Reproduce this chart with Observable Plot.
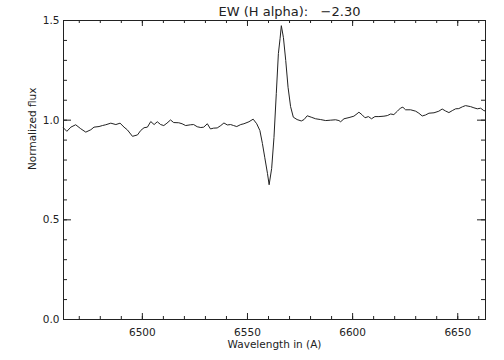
<!DOCTYPE html>
<html><head><meta charset="utf-8">
<script src="https://cdn.jsdelivr.net/npm/d3@7"></script>
<script src="https://cdn.jsdelivr.net/npm/@observablehq/plot@0.6"></script>
<style>html,body{margin:0;padding:0;background:#fff;} svg{display:block;}</style>
</head><body><div id="chart"></div>
<script>
const wavelength = [6462.5,6464.1,6466.0,6468.3,6470.7,6473.1,6475.5,6477.0,6479.4,6481.0,
6482.6,6485.0,6487.4,6489.4,6491.3,6492.9,6495.3,6497.7,6499.2,6500.8,
6502.4,6504.0,6505.6,6507.1,6508.7,6510.2,6511.7,6513.4,6514.9,6517.3,
6518.9,6520.6,6523.0,6524.4,6526.1,6527.8,6529.2,6530.9,6532.4,6533.9,
6535.6,6537.3,6538.8,6540.4,6542.0,6543.4,6544.9,6546.8,6548.3,6550.7,
6552.7,6554.4,6555.9,6557.1,6558.2,6559.5,6560.3,6561.5,6562.6,6563.7,
6564.7,6565.5,6566.1,6567.1,6568.2,6569.3,6570.5,6571.8,6573.6,6575.6,
6576.9,6578.4,6580.3,6582.4,6584.8,6587.2,6589.6,6591.9,6593.5,6594.3,
6595.9,6598.3,6600.6,6602.1,6603.0,6604.6,6605.9,6607.5,6609.0,6610.6,
6612.5,6614.9,6616.5,6618.1,6619.6,6621.3,6622.8,6623.9,6625.2,6627.6,
6630.0,6631.5,6633.1,6634.7,6636.3,6638.7,6641.0,6642.6,6644.2,6645.8,
6647.4,6649.0,6650.5,6652.2,6653.7,6656.1,6657.7,6659.3,6660.9,6662.4,
6663.2];
const flux = [0.961,0.944,0.965,0.977,0.957,0.940,0.952,0.965,0.968,0.973,
0.977,0.985,0.978,0.985,0.965,0.951,0.919,0.926,0.948,0.962,
0.965,0.993,0.978,0.992,0.978,0.973,0.985,1.001,0.988,0.987,
0.982,0.973,0.977,0.978,0.967,0.963,0.965,0.982,0.956,0.960,
0.961,0.973,0.986,0.976,0.978,0.973,0.968,0.978,0.982,0.992,
1.005,0.982,0.948,0.883,0.814,0.733,0.676,0.758,0.913,1.133,
1.334,1.409,1.474,1.414,1.299,1.165,1.068,1.015,1.003,0.996,
1.003,1.022,1.015,1.007,1.003,0.998,1.000,1.002,0.998,0.992,
1.007,1.013,1.020,1.032,1.040,1.026,1.012,1.018,1.007,1.018,
1.018,1.020,1.023,1.031,1.028,1.045,1.061,1.065,1.052,1.052,
1.045,1.035,1.021,1.026,1.035,1.037,1.045,1.056,1.046,1.038,
1.048,1.057,1.058,1.067,1.073,1.068,1.062,1.057,1.060,1.048,
1.046];
const xMajorTicks = [6500, 6550, 6600, 6650];
const yMajorTicks = [0, 0.5, 1.0, 1.5];
const xMinorTicks = d3.range(6470, 6661, 10);
const yMinorTicks = d3.range(0, 16, 1).map(d => d / 10);
const titleText = "EW (H alpha):   \u22122.30";
const xLabel = "Wavelength in (A)";
const yLabel = "Normalized flux";

const data = wavelength.map((w, i) => ({w, f: flux[i]}));

const W = 504, H = 360, mt = 20, mb = 41, ml = 63, mr = 19;
const ph = H - mt - mb, pw = W - ml - mr;
const ink = "#222";

const chart = Plot.plot({
  width: W, height: H,
  marginTop: mt, marginBottom: mb, marginLeft: ml, marginRight: mr,
  style: {fontFamily: "'DejaVu Sans', sans-serif", fontSize: "10.5px", background: "#fff", color: ink},
  x: {domain: [6462.5, 6663.2]},
  y: {domain: [0, 1.5]},
  marks: [
    Plot.ruleX(xMinorTicks, {stroke: ink, insetTop: ph - 3}),
    Plot.ruleX(xMinorTicks, {stroke: ink, insetBottom: ph - 3}),
    Plot.ruleX(xMajorTicks, {stroke: ink, insetTop: ph - 6}),
    Plot.ruleX(xMajorTicks, {stroke: ink, insetBottom: ph - 6}),
    Plot.ruleY(yMinorTicks, {stroke: ink, insetRight: pw - 4}),
    Plot.ruleY(yMinorTicks, {stroke: ink, insetLeft: pw - 4}),
    Plot.ruleY(yMajorTicks, {stroke: ink, insetRight: pw - 8}),
    Plot.ruleY(yMajorTicks, {stroke: ink, insetLeft: pw - 8}),
    Plot.frame({stroke: ink}),
    Plot.axisX({ticks: xMajorTicks, tickSize: 0, tickPadding: 9, tickFormat: d => String(d), label: null}),
    Plot.axisY({ticks: yMajorTicks, tickSize: 0, tickPadding: 4, tickFormat: d3.format(".1f"), label: null}),
    Plot.line(data, {x: "w", y: "f", stroke: ink, strokeWidth: 1}),
    Plot.text([titleText], {frameAnchor: "top", dx: 15, dy: -5, lineAnchor: "bottom", fontSize: 13}),
    Plot.text([xLabel], {frameAnchor: "bottom", dy: 28, lineAnchor: "bottom"}),
    Plot.text([yLabel], {frameAnchor: "left", dx: -31, rotate: -90})
  ]
});
document.getElementById("chart").append(chart);
</script>
</body></html>
